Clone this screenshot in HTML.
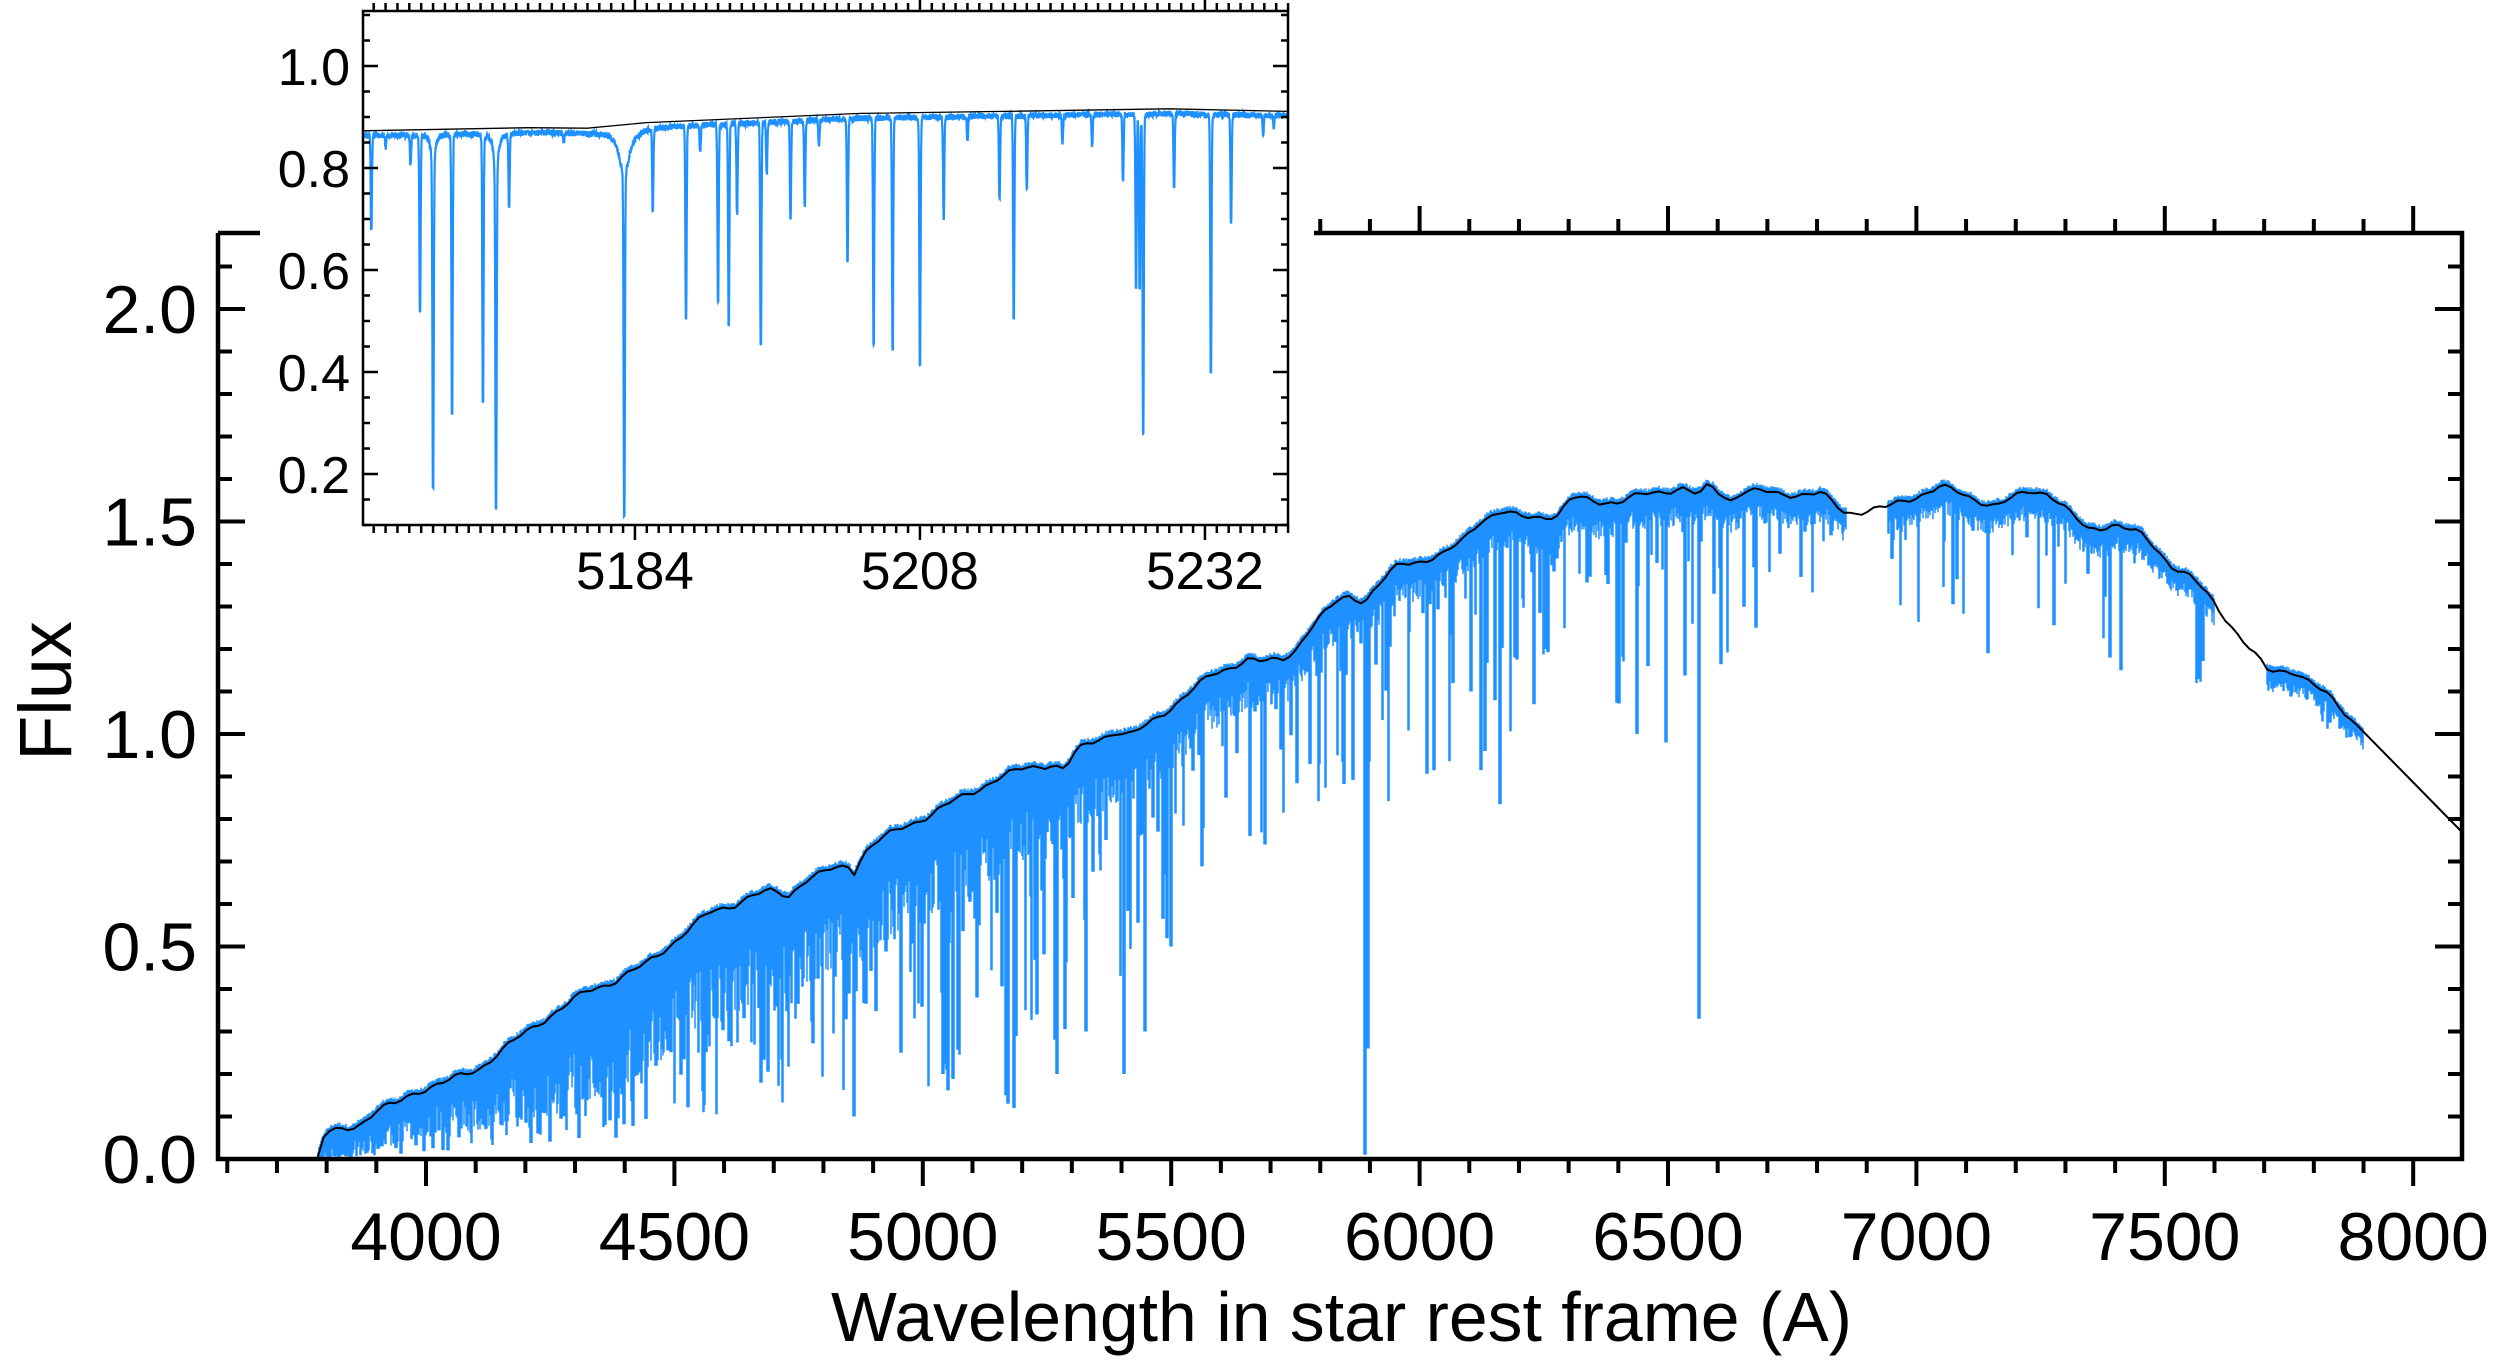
<!DOCTYPE html>
<html><head><meta charset="utf-8"><style>
html,body{margin:0;padding:0;background:#fff;}
svg{display:block;font-family:"Liberation Sans",Arial,sans-serif;}
</style></head><body>
<svg id="s" width="2507" height="1370" viewBox="0 0 2507 1370" xmlns="http://www.w3.org/2000/svg">
<g id="main"></g>
<rect x="260" y="0" width="1054" height="598" fill="#fff"/>
<g id="inset"></g>
<g id="labels" fill="#000">
<text x="45" y="691" font-size="74" text-anchor="middle" transform="rotate(-90 45 691) translate(0 26)">Flux</text>
<text x="831" y="1341" font-size="70" textLength="1021" lengthAdjust="spacingAndGlyphs">Wavelength in star rest frame (A)</text>
</g>
</svg>
<script>
(function(){
var NS="http://www.w3.org/2000/svg";
function el(p,t,a,txt){var e=document.createElementNS(NS,t);for(var k in a)e.setAttribute(k,a[k]);if(txt!==undefined)e.textContent=txt;p.appendChild(e);return e;}
var seed=12345;function rnd(){seed=(seed*1103515245+12345)&0x7fffffff;return seed/0x7fffffff;}
function interp(pts,x){if(x<=pts[0][0])return pts[0][1];for(var i=1;i<pts.length;i++){if(x<=pts[i][0]){var a=pts[i-1],b=pts[i];return a[1]+(b[1]-a[1])*(x-a[0])/(b[0]-a[0]);}}return pts[pts.length-1][1];}
var main=document.getElementById('main');
var L=218,R=2462,T=233,B=1159;
function X(l){return 426+(l-4000)*0.4968;}
function Y(f){return 1159-f*425;}
var cont=[[3782,0.005],[3796,0.059],[3838,0.072],[3870,0.085],[3901,0.113],[3940,0.13],[3980,0.16],[4040,0.18],[4107,0.214],[4170,0.27],[4226,0.32],[4280,0.36],[4325,0.395],[4380,0.42],[4438,0.454],[4509,0.521],[4572,0.58],[4620,0.6],[4657,0.619],[4700,0.63],[4730,0.62],[4760,0.655],[4819,0.681],[4850,0.69],[4861,0.675],[4880,0.72],[4904,0.744],[4960,0.78],[5017,0.812],[5088,0.857],[5150,0.895],[5208,0.92],[5260,0.93],[5285,0.915],[5310,0.96],[5357,0.992],[5392,1.006],[5420,0.995],[5450,1.02],[5490,1.055],[5540,1.1],[5582,1.139],[5652,1.176],[5680,1.168],[5723,1.176],[5750,1.2],[5780,1.248],[5836,1.315],[5860,1.327],[5890,1.312],[5910,1.34],[5961,1.401],[6010,1.41],[6053,1.423],[6090,1.46],[6124,1.506],[6165,1.522],[6200,1.51],[6279,1.515],[6307,1.555],[6360,1.548],[6398,1.546],[6460,1.565],[6527,1.58],[6562,1.56],[6583,1.585],[6625,1.551],[6653,1.573],[6720,1.565],[6808,1.565],[6857,1.52],[6943,1.533],[7000,1.56],[7048,1.582],[7100,1.56],[7161,1.537],[7231,1.573],[7266,1.568],[7300,1.53],[7343,1.48],[7401,1.495],[7458,1.464],[7514,1.398],[7556,1.366],[7599,1.308],[7708,1.146],[7762,1.15],[7825,1.092],[7895,1.014],[8100,0.767]];
// densify continuum with small wiggles
var cont2=[];
for(var l=3782;l<=7895;l+=12){var w=(l<3800)?0:0.006*Math.sin(l*0.05)+0.004*Math.sin(l*0.13+1);cont2.push([l,interp(cont,l)+w]);}
cont2.push([8100,0.767]);
function fill(l){return interp([[3782,0.9],[3830,0.85],[4000,0.6],[4300,0.65],[4500,0.45],[4800,0.33],[5000,0.28],[5300,0.18],[5600,0.1],[5800,0.07],[6000,0.06],[6300,0.05],[7000,0.04],[7900,0.04]],l);}
function maxd(l){return interp([[3782,0.95],[4500,0.85],[5300,0.8],[5500,0.5],[5900,0.4],[6100,0.35],[6500,0.3],[7000,0.2],[7900,0.2]],l);}
function prob(l){return interp([[3782,0.3],[5500,0.25],[5700,0.14],[6600,0.14],[6800,0.08],[7900,0.08]],l);}
var cols={};
var segs=[[3782,6860],[6942,7600],[7705,7900]];
for(var s=0;s<segs.length;s++){
 var x0=Math.ceil(X(segs[s][0])),x1=Math.floor(X(segs[s][1]));
 for(var x=x0;x<=x1;x++){
  var l=4000+(x-426)/0.4968,c=interp(cont2,l);
  var f=fill(l)*(0.5+0.6*rnd());
  cols[x]={t:c+0.006+0.008*rnd(),b:c*(1-f)};
 }
 for(var x=x0;x<=x1;x++){
  var l=4000+(x-426)/0.4968;
  if(rnd()<prob(l)){
   var r=rnd();var d=fill(l)+(maxd(l)-fill(l))*r*r;var c=interp(cont2,l);var w=2+Math.floor(rnd()*2);
   for(var k=0;k<w;k++){var o=cols[x+k];if(o){o.b=Math.min(o.b,c*(1-d));}}
  }
 }
}
var special=[[4861,0.1],[5167,0.15],[5172,0.13],[5183,0.12],[5270,0.2],[5328,0.3],[5405,0.2],[5447,0.3],[5890,0.01],[5896,0.26],[6067,1.12],[6103,1.1],[6124,0.915],[6132,0.96],[6162,0.835],[6192,1.18],[6230,1.07],[6255,1.2],[6400,1.15],[6437,1.0],[6460,1.16],[6495,0.98],[6563,0.33],[6593,1.33],[6678,1.25],[7144,1.19],[7390,1.18],[7411,1.15],[7700,0.485],[7665,1.08],[4045,0.02],[4226,0.06],[4383,0.05],[5040,0.2],[4957,0.25],[5110,0.38],[5230,0.34],[5500,0.5],[5610,0.85],[5688,0.74]];
for(var i=0;i<special.length;i++){var x=Math.round(X(special[i][0]));for(var k=-1;k<=1;k++){var o=cols[x+k];if(o)o.b=Math.min(o.b,special[i][1]);}}
var d="";for(var x in cols){var o=cols[x];d+="M"+x+" "+Y(o.t).toFixed(1)+"V"+Y(Math.max(o.b,0.005)).toFixed(1);}
el(main,'path',{d:d,stroke:'#1e90ff','stroke-width':1.5,fill:'none'});
var cd="M"+X(3782)+" "+Y(0.005);for(var i=0;i<cont2.length;i++){cd+="L"+X(cont2[i][0]).toFixed(1)+" "+Y(cont2[i][1]).toFixed(1);}
el(main,'path',{d:cd,stroke:'#000','stroke-width':2,fill:'none','stroke-linejoin':'round'});
var tk="";
for(var l=3600;l<=8000;l+=100){var x=X(l),maj=(l%500==0);var len=maj?27:14;tk+="M"+x+" "+B+"v"+len;if(x>1314)tk+="M"+x+" "+T+"v"+(-len);}
for(var v=0;v<=2.15;v+=0.1){var y=Y(v),maj=(Math.round(v*10)%5==0);var len=maj?27:14;tk+="M"+L+" "+y+"h"+len+"M"+R+" "+y+"h"+(-len);}
el(main,'path',{d:tk,stroke:'#000','stroke-width':4,fill:'none'});
el(main,'path',{d:"M"+L+" "+T+"V"+B+"H"+R+"V"+T+"H"+L,stroke:'#000','stroke-width':4.5,fill:'none'});
for(var l=4000;l<=8000;l+=500)el(main,'text',{x:X(l),y:1260,'font-size':68,'text-anchor':'middle'},String(l));
var yl=["0.0","0.5","1.0","1.5","2.0"];for(var i=0;i<5;i++)el(main,'text',{x:197,y:Y(i*0.5)+24,'font-size':68,'text-anchor':'end'},yl[i]);
var ins=document.getElementById('inset');
var IL=363,IR=1288,IT=11,IB=525;
function IX(l){return IL+(l-5161.1)*11.875;}function IY(f){return IB-(f-0.1)*510;}
var icont=[[5161,0.873],[5175,0.879],[5180,0.878],[5185,0.889],[5203,0.907],[5215,0.911],[5229,0.916],[5239,0.911]];
var lines=[[5161.8,0.69],[5165.1,0.817],[5165.9,0.524],[5167.0,0.175,0.15],[5168.6,0.322],[5171.2,0.348],[5172.3,0.134,0.2],[5173.4,0.735],[5183.1,0.119,0.5],[5185.5,0.73],[5188.3,0.51],[5191.0,0.547],[5191.9,0.498],[5192.6,0.72],[5194.6,0.457],[5195.1,0.80],[5197.1,0.71],[5198.3,0.735],[5201.9,0.62],[5204.1,0.46],[5205.7,0.45],[5208.0,0.42],[5210.0,0.71],[5214.7,0.75],[5215.9,0.513],[5217.0,0.77],[5225.1,0.787],[5226.2,0.573],[5226.5,0.57],[5226.8,0.284],[5229.4,0.77],[5232.5,0.404],[5234.2,0.70],[5236.9,0.87],[5163,0.85],[5178,0.86],[5189.5,0.84],[5199.5,0.85],[5212,0.86],[5220,0.86],[5222.5,0.85],[5237.8,0.89]];
var ip="";
for(var l=5161.1;l<=5239;l+=0.02){var c=interp(icont,l)-0.009+0.012*(rnd()-0.5);var f=1;
 for(var i=0;i<lines.length;i++){var ln=lines[i];var dd=1-ln[1]/interp(icont,ln[0]);var dx=l-ln[0];var g=Math.exp(-dx*dx/(2*0.05*0.05));var lw=ln[2]||0.04;var lo=0.12/(1+(dx/lw)*(dx/lw));f*=1-dd*Math.min(1,g+lo);}
 ip+=(ip?"L":"M")+IX(l).toFixed(1)+" "+IY(c*f).toFixed(1);}
el(ins,'path',{d:ip,stroke:'#1e90ff','stroke-width':2.2,fill:'none'});
var icd="";for(var i=0;i<icont.length;i++)icd+=(i?"L":"M")+IX(icont[i][0]).toFixed(1)+" "+IY(icont[i][1]).toFixed(1);
el(ins,'path',{d:icd,stroke:'#000','stroke-width':1.3,fill:'none'});
var it="";
for(var l=5162;l<=5239;l+=1){var x=IX(l),maj=((l-5184)%24==0);var len=maj?15:8;it+="M"+x+" "+IB+"v"+len+"M"+x+" "+IT+"v"+(-len);}
for(var k=2;k<=22;k++){var v=k*0.05;var y=IY(v);var maj=(k%4==0);var len=maj?15:7;it+="M"+IL+" "+y+"h"+len+"M"+IR+" "+y+"h"+(-len);}
el(ins,'path',{d:it,stroke:'#000','stroke-width':2.5,fill:'none'});
el(ins,'rect',{x:IL,y:IT,width:IR-IL,height:IB-IT,stroke:'#000','stroke-width':2.5,fill:'none'});
[5184,5208,5232].forEach(function(l){el(ins,'text',{x:IX(l),y:589,'font-size':53,'text-anchor':'middle'},String(l));});
["0.2","0.4","0.6","0.8","1.0"].forEach(function(t){el(ins,'text',{x:350,y:IY(parseFloat(t))+19,'font-size':52,'text-anchor':'end'},t);});
})();
</script>
</body></html>
